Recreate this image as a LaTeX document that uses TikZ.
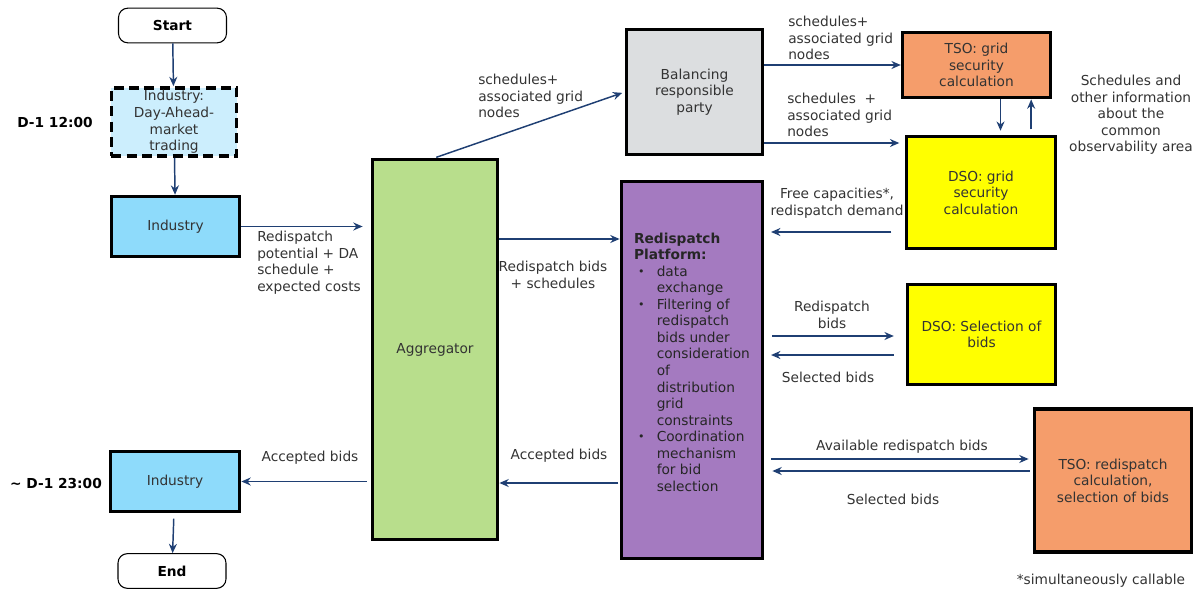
\documentclass[tikz,border=0pt]{standalone}
\usepackage{fontspec}
\setmainfont{DejaVu Sans}
\usetikzlibrary{arrows.meta}
\definecolor{arrowblue}{HTML}{1F3F73}
\definecolor{txtgray}{HTML}{333333}
\definecolor{daFill}{HTML}{CCEEFD}
\definecolor{indFill}{HTML}{8EDBFB}
\definecolor{aggFill}{HTML}{B8DE8C}
\definecolor{brpFill}{HTML}{DCDEE0}
\definecolor{platFill}{HTML}{A47AC0}
\definecolor{tsoFill}{HTML}{F59D6B}
\definecolor{dsoFill}{HTML}{FFFF00}
\newcommand{\basefont}{\fontsize{10.3}{12.4}\selectfont}
\newcommand{\bul}{\makebox[17pt][l]{\hspace{3pt}\raisebox{0.15ex}{\scalebox{0.8}{\textbullet}}}}
\newcommand{\ind}{\hspace*{17pt}}
\begin{document}
\begin{tikzpicture}[x=0.75pt,y=-0.75pt,font=\basefont,
    box/.style={draw=black,line width=2.6pt,align=center,text=txtgray,inner sep=2pt},
    term/.style={draw=black,line width=0.8pt,rounded corners=7pt,fill=white,
      font=\basefont\bfseries,minimum width=81pt,minimum height=26pt},
    flow/.style={draw=arrowblue,line width=1.1pt,-{Stealth[length=7pt,width=6pt]}},
    lbl/.style={text=txtgray,align=center,inner sep=0pt},
    lbll/.style={lbl,align=left,anchor=north west},
    time/.style={font=\basefont\bfseries,text=black,inner sep=0pt}]
\useasboundingbox (0,0) rectangle (1200,592);
% boxes
\node[term] (start) at (172.5,25.5) {Start};
\node[box,fill=daFill,line width=2.6pt,dash pattern=on 7.5pt off 4pt,
  minimum width=94pt,minimum height=50pt] (daind) at (174,122)
  {Industry:\\Day-Ahead-\\market\\trading};
\node[box,fill=indFill,minimum width=96pt,minimum height=45pt] (ind1) at (175.5,226.5) {Industry};
\node[box,fill=indFill,minimum width=97pt,minimum height=45pt] (ind2) at (175,481.5) {Industry};
\node[term] (end) at (172,571) {End};
\node[box,fill=aggFill,minimum width=94pt,minimum height=285pt] (agg) at (435,349.5) {Aggregator};
\node[box,fill=brpFill,minimum width=102pt,minimum height=94pt] (brp) at (694.5,92)
  {Balancing\\responsible\\party};
\node[box,fill=platFill,minimum width=106pt,minimum height=283pt,align=left,text=black!85] (plat) at (692,370)
  {\textbf{Redispatch}\\\textbf{Platform:}\\
   \bul data\\\ind exchange\\
   \bul Filtering of\\\ind redispatch\\\ind bids under\\\ind consideration\\\ind of\\
   \ind distribution\\\ind grid\\\ind constraints\\
   \bul Coordination\\\ind mechanism\\\ind for bid\\\ind selection\\[-0.4pt]};
\node[box,fill=tsoFill,minimum width=111pt,minimum height=49pt] (tsog) at (976.5,65)
  {TSO: grid\\security\\calculation};
\node[box,fill=dsoFill,minimum width=112pt,minimum height=84pt] (dsog) at (981,192.5)
  {DSO: grid\\security\\calculation};
\node[box,fill=dsoFill,minimum width=111pt,minimum height=75pt] (dsos) at (981.5,334.5)
  {DSO: Selection of\\bids};
\node[box,fill=tsoFill,minimum width=118pt,minimum height=107pt] (tsor) at (1113,480.5)
  {TSO: redispatch\\calculation,\\selection of bids};
% times and note
\node[time] (t12) at (55,123) {D-1 12:00};
\node[time] (t23) at (56,483) {\textasciitilde{} D-1 23:00};
\node[lbl] (note) at (1101,581) {*simultaneously callable};
% connectors
\draw[flow] (start) -- (daind);
\draw[flow] (daind) -- (ind1);
\draw[flow] (ind1) -- (ind1 -| agg.west) [shorten >=6pt];
\draw[flow,shorten <=1pt,shorten >=2pt] (agg.north) -- (brp.west);
\draw[flow] (brp.east |- tsog.west) -- (tsog.west);
\draw[flow] (brp.east |- 0,143) -- (dsog.west |- 0,143) [shorten >=4pt];
\draw[flow,shorten >=3pt] ([xshift=18pt]tsog.south) -- ([xshift=18pt]tsog.south |- dsog.north);
\draw[flow,shorten <=4pt] ([xshift=41pt]tsog.south |- dsog.north) -- ([xshift=41pt]tsog.south);
\draw[flow,shorten <=10pt,shorten >=5pt] (dsog.west |- 0,232) -- (plat.east |- 0,232);
\draw[flow] (agg.east |- 0,239) -- (plat.west |- 0,239);
\draw[flow,shorten <=6pt,shorten >=9pt] (plat.east |- 0,336) -- (dsos.west |- 0,336);
\draw[flow,shorten <=9pt,shorten >=5pt] (dsos.west |- 0,355) -- (plat.east |- 0,355);
\draw[flow,shorten <=5pt,shorten >=3pt] (plat.east |- 0,459) -- (tsor.west |- 0,459);
\draw[flow,shorten <=2pt,shorten >=6pt] (tsor.west |- 0,471) -- (plat.east |- 0,471);
\draw[flow,shorten <=1pt] (plat.west |- 0,483) -- (agg.east |- 0,483);
\draw[flow,shorten <=3pt] (agg.west |- ind2) -- (ind2);
\draw[flow,shorten <=4pt] (ind2) -- (end);
% labels
\node[lbll] (lpot) at (257,231) {Redispatch\\potential + DA\\schedule +\\expected costs};
\node[lbll] (lsch1) at (478,74) {schedules+\\associated grid\\nodes};
\node[lbll] (lsch2) at (788,16) {schedules+\\associated grid\\nodes};
\node[lbll] (lsch3) at (787,93) {schedules\ \ +\\associated grid\\nodes};
\node[lbl] (lobs) at (1131,115) {Schedules and\\other information\\about the\\common\\observability area};
\node[lbl] (lfree) at (837,203) {Free capacities*,\\redispatch demand};
\node[lbl] (lbids) at (553,275) {Redispatch bids\\+ schedules};
\node[lbl] (lred) at (832,315) {Redispatch\\bids};
\node[lbl] (lsel1) at (828,377) {Selected bids};
\node[lbl] (lavail) at (902,447) {Available redispatch bids};
\node[lbl] (lsel2) at (893,499) {Selected bids};
\node[lbl] (lacc1) at (559,456) {Accepted bids};
\node[lbl] (lacc2) at (310,458) {Accepted bids};
\end{tikzpicture}
\end{document}
